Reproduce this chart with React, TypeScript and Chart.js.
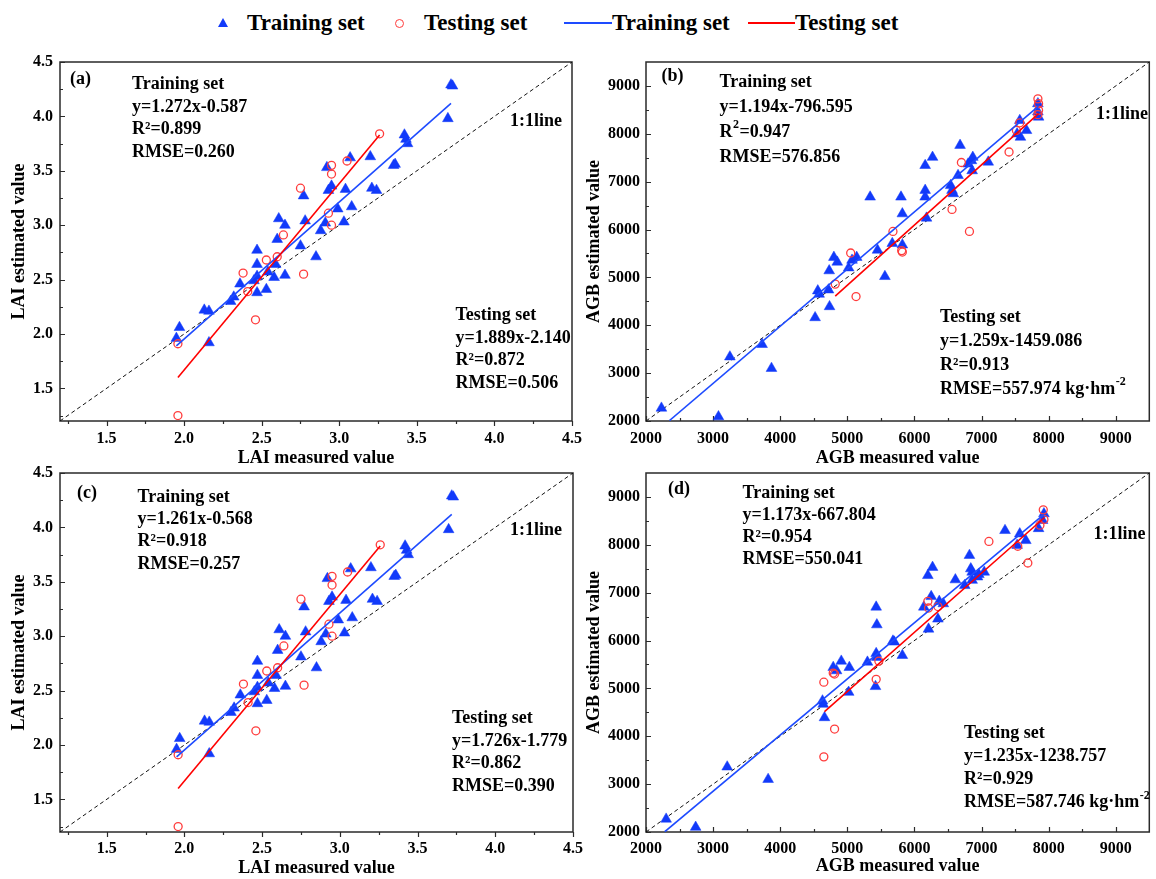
import React, { useEffect, useRef } from 'react';
import { Chart, registerables } from 'chart.js';

Chart.register(...registerables);

const FONT = '"Liberation Serif", "Times New Roman", Times, serif';
const BLUE = 'rgb(18, 58, 250)';
const BLUE_LINE = 'rgb(30, 75, 255)';
const RED_PT = 'rgb(255, 60, 60)';
const RED_LINE = 'rgb(255, 0, 0)';
const AXIS = '#2a2a2a';

// ---------- axes ----------
const LAI_RANGE = [1.2, 4.5];
const LAI_TICKS = [1.5, 2.0, 2.5, 3.0, 3.5, 4.0, 4.5];
const LAI_MINOR = [1.25, 1.75, 2.25, 2.75, 3.25, 3.75, 4.25];
const AGB_RANGE = [2000, 9500];
const AGB_TICKS = [2000, 3000, 4000, 5000, 6000, 7000, 8000, 9000];
const AGB_MINOR = [2500, 3500, 4500, 5500, 6500, 7500, 8500];

// ---------- LAI (panels a and c) ----------
const LAI_TRAIN_MEASURED = [1.95, 1.97, 2.13, 2.16, 2.16, 2.30, 2.32, 2.36, 2.45, 2.47, 2.47, 2.47, 2.47, 2.53, 2.54, 2.58, 2.59, 2.60, 2.61, 2.65, 2.65, 2.75, 2.77, 2.78, 2.85, 2.88, 2.91, 2.92, 2.93, 2.95, 2.99, 3.03, 3.04, 3.07, 3.08, 3.20, 3.21, 3.24, 3.35, 3.36, 3.42, 3.43, 3.44, 3.70, 3.72, 3.73];
const LAI_TRAIN_ESTIMATED = [1.96, 2.06, 2.22, 2.21, 1.92, 2.30, 2.34, 2.46, 2.49, 2.38, 2.53, 2.64, 2.77, 2.41, 2.57, 2.52, 2.64, 2.87, 3.06, 3.00, 2.54, 2.81, 3.27, 3.04, 2.71, 2.95, 3.02, 3.53, 3.32, 3.36, 3.15, 3.03, 3.33, 3.62, 3.17, 3.63, 3.34, 3.32, 3.55, 3.56, 3.83, 3.79, 3.75, 3.98, 4.29, 4.28];
const LAI_TEST_MEASURED = [1.96, 1.96, 2.38, 2.41, 2.46, 2.53, 2.60, 2.64, 2.75, 2.77, 2.93, 2.95, 2.95, 2.95, 3.05, 3.26];
const LAI_TEST_ESTIMATED = [1.91, 1.25, 2.56, 2.39, 2.13, 2.68, 2.71, 2.91, 3.34, 2.55, 3.11, 3.55, 3.47, 3.00, 3.59, 3.84];
const LAI_TRAIN_FIT_X = [1.95, 3.72];
const LAI_TRAIN_FIT_Y = [1.89, 4.12];
const LAI_TEST_FIT_X = [1.96, 3.26];
const LAI_TEST_FIT_Y = [1.60, 3.83];

// ---------- AGB panel b ----------
const AGB_B_TRAIN_MEASURED = [2230, 3080, 3250, 3730, 3870, 4520, 4560, 4580, 4720, 4735, 4730, 4800, 4850, 5020, 5070, 5140, 5340, 5450, 5560, 5670, 5800, 5820, 5820, 6160, 6160, 6160, 6180, 6270, 6540, 6560, 6580, 6650, 6680, 6800, 6850, 6870, 6860, 7100, 7530, 7580, 7570, 7670, 7840, 7850, 7840];
const AGB_B_TRAIN_ESTIMATED = [2270, 2090, 3340, 3600, 3100, 4160, 4720, 4650, 4740, 4390, 5140, 5420, 5320, 5200, 5360, 5420, 6680, 5570, 5020, 5710, 6680, 6330, 5680, 7340, 6820, 6680, 6240, 7510, 6920, 6820, 6750, 7130, 7760, 7370, 7440, 7510, 7230, 7410, 8000, 7930, 8280, 8070, 8630, 8350, 8460];
const AGB_B_TEST_MEASURED = [4820, 5050, 5130, 5680, 5810, 5820, 6560, 6700, 6820, 7410, 7520, 7570, 7840, 7850, 7850, 7840];
const AGB_B_TEST_ESTIMATED = [4860, 5510, 4600, 5960, 5560, 5530, 6420, 7400, 5960, 7620, 8070, 8230, 8730, 8630, 8490, 8400];
const AGB_B_TRAIN_FIT_X = [2350, 7850];
const AGB_B_TRAIN_FIT_Y = [2010, 8577];
const AGB_B_TEST_FIT_X = [4820, 7850];
const AGB_B_TEST_FIT_Y = [4610, 8420];

// ---------- AGB panel d ----------
const AGB_D_TRAIN_MEASURED = [2300, 2740, 3210, 3820, 4630, 4640, 4660, 4790, 4840, 4910, 5020, 5030, 5300, 5430, 5440, 5430, 5440, 5420, 5680, 5700, 5820, 6140, 6200, 6210, 6270, 6250, 6350, 6370, 6430, 6610, 6750, 6820, 6840, 6860, 6860, 6940, 6960, 7040, 7350, 7530, 7570, 7660, 7850, 7910, 7930];
const AGB_D_TRAIN_ESTIMATED = [2270, 2100, 3360, 3100, 4740, 4670, 4390, 5440, 5370, 5570, 4920, 5440, 5550, 6700, 6330, 5730, 5650, 5040, 5990, 5970, 5690, 6700, 7360, 6240, 7530, 6920, 6450, 6820, 6770, 7270, 7150, 7780, 7500, 7430, 7260, 7330, 7380, 7430, 8300, 7990, 8230, 8090, 8340, 8510, 8650];
const AGB_D_TEST_MEASURED = [4650, 4810, 4650, 4790, 4810, 5430, 5470, 6200, 6210, 6350, 7110, 7540, 7690, 7870, 7920, 7930];
const AGB_D_TEST_ESTIMATED = [3570, 4150, 5130, 5320, 5300, 5190, 5570, 6820, 6680, 6710, 8070, 7970, 7620, 8410, 8730, 8530];
const AGB_D_TRAIN_FIT_X = [2280, 7930];
const AGB_D_TRAIN_FIT_Y = [2006, 8634];
const AGB_D_TEST_FIT_X = [4660, 7940];
const AGB_D_TEST_FIT_Y = [4516, 8570];

// ---------- texts ----------
const TEXT_A_TRAIN = ['Training set', 'y=1.272x-0.587', 'R²=0.899', 'RMSE=0.260'];
const TEXT_A_TEST = ['Testing set', 'y=1.889x-2.140', 'R²=0.872', 'RMSE=0.506'];
const TEXT_B_TRAIN = ['Training set', 'y=1.194x-796.595', 'R|2|=0.947', 'RMSE=576.856'];
const TEXT_B_TEST = ['Testing set', 'y=1.259x-1459.086', 'R²=0.913', 'RMSE=557.974 kg·hm|-2|'];
const TEXT_C_TRAIN = ['Training set', 'y=1.261x-0.568', 'R²=0.918', 'RMSE=0.257'];
const TEXT_C_TEST = ['Testing set', 'y=1.726x-1.779', 'R²=0.862', 'RMSE=0.390'];
const TEXT_D_TRAIN = ['Training set', 'y=1.173x-667.804', 'R²=0.954', 'RMSE=550.041'];
const TEXT_D_TEST = ['Testing set', 'y=1.235x-1238.757', 'R²=0.929', 'RMSE=587.746 kg·hm|-2|'];

type Pt = { x: number; y: number };
const pts = (xs: number[], ys: number[]): Pt[] => xs.map((x, i) => ({ x, y: ys[i] }));

interface Block { x: number; y: number; lines: string[]; gap: number }
interface Panel {
  id: string;
  left: number; top: number; width: number; height: number;
  padTop: number; padRight: number; yAxisW: number; xAxisH: number;
  yTickPad: number; xTickPad: number; xTitlePad: number; yTitlePad: number;
  range: number[]; ticks: number[]; minor: number[]; decimals: number;
  xTitle: string; yTitle: string; xTickOut: boolean;
  train: Pt[]; test: Pt[]; trainFit: Pt[]; testFit: Pt[];
  label: { x: number; y: number; text: string };
  oneOne: { x: number; y: number };
  blocks: Block[];
}

const PANELS: Panel[] = [
  {
    id: 'a', left: 0, top: 40, width: 590, height: 430,
    padTop: 22, padRight: 17, yAxisW: 60, xAxisH: 49,
    yTickPad: 7, xTickPad: 8, xTitlePad: 1, yTitlePad: 9,
    range: LAI_RANGE, ticks: LAI_TICKS, minor: LAI_MINOR, decimals: 1,
    xTitle: 'LAI measured value', yTitle: 'LAI estimated value', xTickOut: true,
    train: pts(LAI_TRAIN_MEASURED, LAI_TRAIN_ESTIMATED), test: pts(LAI_TEST_MEASURED, LAI_TEST_ESTIMATED),
    trainFit: pts(LAI_TRAIN_FIT_X, LAI_TRAIN_FIT_Y), testFit: pts(LAI_TEST_FIT_X, LAI_TEST_FIT_Y),
    label: { x: 70, y: 79.5, text: '(a)' },
    oneOne: { x: 510, y: 121 },
    blocks: [
      { x: 132, y: 84.7, lines: TEXT_A_TRAIN, gap: 22.5 },
      { x: 455.5, y: 315.5, lines: TEXT_A_TEST, gap: 22.5 },
    ],
  },
  {
    id: 'b', left: 580, top: 40, width: 576, height: 430,
    padTop: 22, padRight: 2, yAxisW: 66, xAxisH: 49,
    yTickPad: 6, xTickPad: 8, xTitlePad: 1, yTitlePad: 3.5,
    range: AGB_RANGE, ticks: AGB_TICKS, minor: AGB_MINOR, decimals: 0,
    xTitle: 'AGB measured value', yTitle: 'AGB estimated value', xTickOut: false,
    train: pts(AGB_B_TRAIN_MEASURED, AGB_B_TRAIN_ESTIMATED), test: pts(AGB_B_TEST_MEASURED, AGB_B_TEST_ESTIMATED),
    trainFit: pts(AGB_B_TRAIN_FIT_X, AGB_B_TRAIN_FIT_Y), testFit: pts(AGB_B_TEST_FIT_X, AGB_B_TEST_FIT_Y),
    label: { x: 661.5, y: 76.5, text: '(b)' },
    oneOne: { x: 1096, y: 114.5 },
    blocks: [
      { x: 719.5, y: 82.7, lines: TEXT_B_TRAIN, gap: 24.8 },
      { x: 940, y: 317.2, lines: TEXT_B_TEST, gap: 24 },
    ],
  },
  {
    id: 'c', left: 0, top: 455, width: 590, height: 424,
    padTop: 18, padRight: 17, yAxisW: 60, xAxisH: 47,
    yTickPad: 7, xTickPad: 7, xTitlePad: 0, yTitlePad: 9,
    range: LAI_RANGE, ticks: LAI_TICKS, minor: LAI_MINOR, decimals: 1,
    xTitle: 'LAI measured value', yTitle: 'LAI estimated value', xTickOut: true,
    train: pts(LAI_TRAIN_MEASURED, LAI_TRAIN_ESTIMATED), test: pts(LAI_TEST_MEASURED, LAI_TEST_ESTIMATED),
    trainFit: pts(LAI_TRAIN_FIT_X, LAI_TRAIN_FIT_Y), testFit: pts(LAI_TEST_FIT_X, LAI_TEST_FIT_Y),
    label: { x: 77, y: 493, text: '(c)' },
    oneOne: { x: 510, y: 530.7 },
    blocks: [
      { x: 137.5, y: 497, lines: TEXT_C_TRAIN, gap: 22.4 },
      { x: 452, y: 718.7, lines: TEXT_C_TEST, gap: 22.5 },
    ],
  },
  {
    id: 'd', left: 580, top: 455, width: 576, height: 424,
    padTop: 18, padRight: 2, yAxisW: 66, xAxisH: 47,
    yTickPad: 6, xTickPad: 7, xTitlePad: 2, yTitlePad: 3.5,
    range: AGB_RANGE, ticks: AGB_TICKS, minor: AGB_MINOR, decimals: 0,
    xTitle: 'AGB measured value', yTitle: 'AGB estimated value', xTickOut: false,
    train: pts(AGB_D_TRAIN_MEASURED, AGB_D_TRAIN_ESTIMATED), test: pts(AGB_D_TEST_MEASURED, AGB_D_TEST_ESTIMATED),
    trainFit: pts(AGB_D_TRAIN_FIT_X, AGB_D_TRAIN_FIT_Y), testFit: pts(AGB_D_TEST_FIT_X, AGB_D_TEST_FIT_Y),
    label: { x: 668, y: 489.2, text: '(d)' },
    oneOne: { x: 1093.5, y: 534.3 },
    blocks: [
      { x: 742.5, y: 492.9, lines: TEXT_D_TRAIN, gap: 22.3 },
      { x: 964, y: 733.5, lines: TEXT_D_TEST, gap: 23 },
    ],
  },
];

function drawRich(ctx: CanvasRenderingContext2D, s: string, x: number, y: number) {
  // segments between | | are superscripts
  const parts = s.split('|');
  let cx = x;
  parts.forEach((part, i) => {
    if (!part) return;
    if (i % 2 === 1) {
      ctx.font = `bold 12px ${FONT}`;
      ctx.fillText(part, cx + 0.5, y - 7);
      cx += ctx.measureText(part).width + 1;
    } else {
      ctx.font = `bold 18px ${FONT}`;
      ctx.fillText(part, cx, y);
      cx += ctx.measureText(part).width;
    }
  });
}

function makeDecor(p: Panel) {
  return {
    id: 'decor_' + p.id,
    beforeDatasetsDraw(chart: any) {
      const { ctx, chartArea: a } = chart;
      const xs = chart.scales.x;
      const ys = chart.scales.y;
      ctx.save();
      ctx.strokeStyle = AXIS;
      ctx.lineWidth = 1.5;
      ctx.strokeRect(a.left, a.top, a.right - a.left, a.bottom - a.top);
      ctx.lineWidth = 1.2;
      ctx.beginPath();
      const xdir = p.xTickOut ? 1 : -1;
      const drawX = (v: number, len: number) => {
        const px = Math.round(xs.getPixelForValue(v)) + 0.5;
        ctx.moveTo(px, a.bottom);
        ctx.lineTo(px, a.bottom + xdir * len);
      };
      const drawY = (v: number, len: number) => {
        const py = Math.round(ys.getPixelForValue(v)) + 0.5;
        ctx.moveTo(a.left, py);
        ctx.lineTo(a.left + len, py);
      };
      p.ticks.forEach((v) => { drawX(v, 5); drawY(v, 5); });
      p.minor.forEach((v) => { drawX(v, 3); drawY(v, 3); });
      ctx.stroke();
      ctx.restore();
    },
    afterDraw(chart: any) {
      const ctx = chart.ctx as CanvasRenderingContext2D;
      ctx.save();
      ctx.fillStyle = '#000';
      ctx.textBaseline = 'middle';
      ctx.textAlign = 'left';
      ctx.font = `bold 18px ${FONT}`;
      ctx.fillText(p.label.text, p.label.x - p.left, p.label.y - p.top);
      ctx.fillText('1:1line', p.oneOne.x - p.left, p.oneOne.y - p.top);
      p.blocks.forEach((b) => {
        b.lines.forEach((ln, i) => {
          drawRich(ctx, ln, b.x - p.left, b.y - p.top + i * b.gap);
        });
      });
      ctx.restore();
    },
  };
}

function buildConfig(p: Panel): any {
  const tickFont = { family: FONT, size: 16, weight: 'bold' as const };
  const titleFont = { family: FONT, size: 18, weight: 'bold' as const };
  const [lo, hi] = p.range;
  const setTicks = (s: any) => { s.ticks = p.ticks.map((v) => ({ value: v })); };
  return {
    type: 'scatter',
    data: {
      datasets: [
        {
          label: 'Testing set fit', data: p.testFit, showLine: true, borderColor: RED_LINE,
          borderWidth: 1.6, pointRadius: 0, fill: false, order: 0,
        },
        {
          label: 'Training set fit', data: p.trainFit, showLine: true, borderColor: BLUE_LINE,
          borderWidth: 1.6, pointRadius: 0, fill: false, order: 1,
        },
        {
          label: 'Testing set', data: p.test, pointStyle: 'circle', pointRadius: 4,
          borderColor: RED_PT, backgroundColor: 'rgba(255,255,255,0)', pointBorderWidth: 1.3,
          borderWidth: 1.3, showLine: false, order: 2, clip: false,
        },
        {
          label: 'Training set', data: p.train, pointStyle: 'triangle', pointRadius: 6.2,
          borderColor: BLUE, backgroundColor: BLUE, borderWidth: 0.5, showLine: false, order: 3, clip: false,
        },
        {
          label: '1:1 line', data: [{ x: lo, y: lo }, { x: hi, y: hi }], showLine: true,
          borderColor: '#111', borderWidth: 1, borderDash: [4, 3], pointRadius: 0, fill: false, order: 4,
        },
      ],
    },
    options: {
      animation: false,
      responsive: false,
      devicePixelRatio: 1,
      events: [],
      layout: { padding: { top: p.padTop, right: p.padRight, left: 0, bottom: 0 } },
      plugins: { legend: { display: false }, tooltip: { enabled: false } },
      scales: {
        x: {
          type: 'linear', position: 'bottom', min: lo, max: hi,
          afterBuildTicks: setTicks,
          afterFit: (s: any) => { s.height = p.xAxisH; },
          grid: { display: false, drawTicks: false },
          border: { display: false },
          ticks: {
            font: tickFont, color: '#000', padding: p.xTickPad, maxRotation: 0, autoSkip: false,
            callback: (v: any) => Number(v).toFixed(p.decimals),
          },
          title: { display: true, text: p.xTitle, font: titleFont, color: '#000', padding: { top: 0, bottom: p.xTitlePad } },
        },
        y: {
          type: 'linear', position: 'left', min: lo, max: hi,
          afterBuildTicks: setTicks,
          afterFit: (s: any) => { s.width = p.yAxisW; },
          grid: { display: false, drawTicks: false },
          border: { display: false },
          ticks: {
            font: tickFont, color: '#000', padding: p.yTickPad, autoSkip: false,
            callback: (v: any) => Number(v).toFixed(p.decimals),
          },
          title: { display: true, text: p.yTitle, font: titleFont, color: '#000', padding: { top: p.yTitlePad, bottom: 0 } },
        },
      },
    },
    plugins: [makeDecor(p)],
  };
}

function PanelChart({ p }: { p: Panel }) {
  const ref = useRef<HTMLCanvasElement | null>(null);
  useEffect(() => {
    if (!ref.current) return;
    const chart = new Chart(ref.current, buildConfig(p));
    return () => chart.destroy();
  }, [p]);
  return (
    <canvas
      ref={ref}
      width={p.width}
      height={p.height}
      style={{ position: 'absolute', left: p.left, top: p.top, width: p.width, height: p.height }}
    />
  );
}

function Legend() {
  const text: React.CSSProperties = {
    position: 'absolute', top: 9, fontSize: 23, fontWeight: 'bold', lineHeight: '27px',
    fontFamily: FONT, color: '#000', whiteSpace: 'nowrap',
  };
  return (
    <>
      <div style={{
        position: 'absolute', left: 218, top: 18, width: 0, height: 0,
        borderLeft: '5px solid transparent', borderRight: '5px solid transparent', borderBottom: `9px solid ${BLUE}`,
      }} />
      <div style={{ ...text, left: 247 }}>Training set</div>
      <div style={{
        position: 'absolute', left: 394.5, top: 18.5, width: 9, height: 9, boxSizing: 'border-box',
        border: `1.3px solid ${RED_PT}`, borderRadius: '50%',
      }} />
      <div style={{ ...text, left: 424 }}>Testing set</div>
      <div style={{ position: 'absolute', left: 564, top: 21.5, width: 48, height: 2, background: BLUE_LINE }} />
      <div style={{ ...text, left: 612 }}>Training set</div>
      <div style={{ position: 'absolute', left: 748, top: 21.5, width: 47, height: 2, background: RED_LINE }} />
      <div style={{ ...text, left: 795 }}>Testing set</div>
    </>
  );
}

export default function App() {
  return (
    <div style={{ position: 'absolute', left: 0, top: 0, width: 1156, height: 879, background: '#fff', overflow: 'hidden' }}>
      <Legend />
      {PANELS.map((p) => <PanelChart key={p.id} p={p} />)}
    </div>
  );
}
